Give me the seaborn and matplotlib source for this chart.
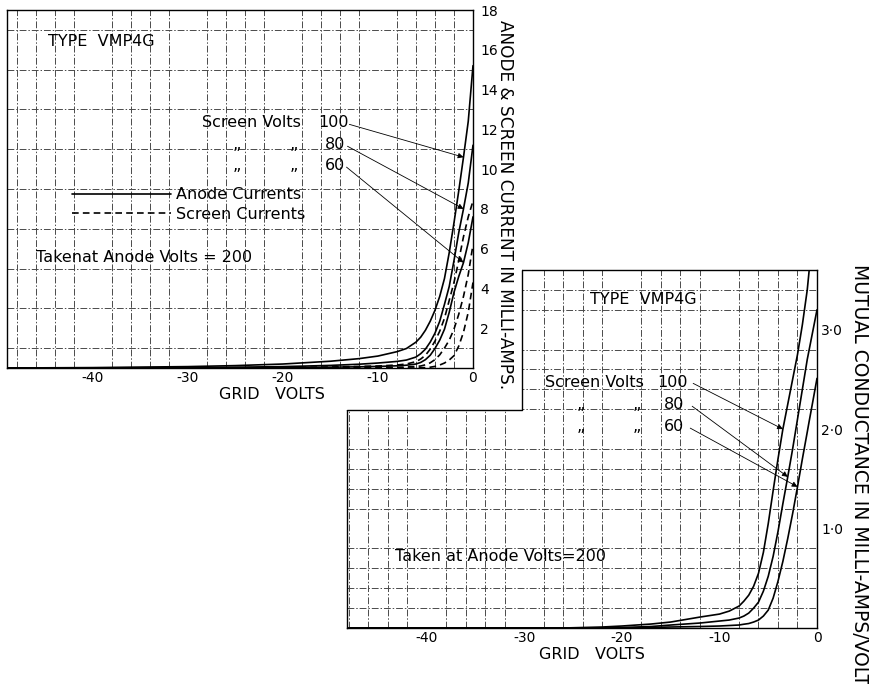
import numpy as np
import pandas as pd
import matplotlib
matplotlib.use("Agg")
import matplotlib.pyplot as plt
from matplotlib.lines import Line2D
from matplotlib.patches import Rectangle
import seaborn as sns

# ---- upper chart: anode & screen currents (mA) vs grid volts ----
top_volts = [-49, -40, -30, -25, -20, -15, -12, -10, -8, -7, -6, -5.5, -5, -4.5,
             -4, -3.5, -3, -2.5, -2, -1.5, -1, -0.5, 0]
anode_100 = [0.0, 0.02, 0.07, 0.12, 0.2, 0.34, 0.47, 0.6, 0.82, 0.98, 1.3, 1.55, 1.9, 2.35,
             2.9, 3.6, 4.5, 5.8, 7.3, 8.9, 10.6, 12.4, 15.2]
anode_80 = [0.0, 0.005, 0.02, 0.04, 0.07, 0.13, 0.19, 0.25, 0.33, 0.4, 0.55, 0.72, 0.95, 1.3,
            1.75, 2.35, 3.2, 4.1, 5.4, 6.8, 8.0, 9.3, 11.2]
anode_60 = [0.0, 0.0, 0.0, 0.01, 0.02, 0.04, 0.06, 0.08, 0.11, 0.14, 0.2, 0.28, 0.42, 0.64,
            0.98, 1.4, 1.95, 2.8, 3.8, 4.6, 5.3, 6.3, 7.6]
screen_100 = [0.0, 0.0, 0.0, 0.01, 0.02, 0.05, 0.08, 0.1, 0.15, 0.2, 0.32, 0.45, 0.64, 0.95,
              1.35, 1.85, 2.5, 3.4, 4.3, 5.4, 6.6, 7.6, 8.4]
screen_80 = [0.0, 0.0, 0.0, 0.0, 0.0, 0.0, 0.01, 0.02, 0.03, 0.05, 0.08, 0.1, 0.16, 0.26,
             0.42, 0.66, 1.0, 1.4, 1.95, 2.7, 3.6, 4.7, 6.2]
screen_60 = [0.0, 0.0, 0.0, 0.0, 0.0, 0.0, 0.0, 0.0, 0.0, 0.0, 0.0, 0.01, 0.02, 0.04,
             0.08, 0.15, 0.25, 0.4, 0.62, 1.1, 1.8, 2.8, 4.3]

# ---- lower chart: mutual conductance (mA/V) vs grid volts ----
bot_volts = [-48, -26, -22, -20, -17, -15, -12, -10, -9, -8, -7.5, -7, -6.5, -6, -5.5, -5,
             -4.5, -4, -3.5, -3, -2.5, -2, -1.5, -1, -0.8, -0.5, 0]
gm_100 = [0.0, 0.0, 0.01, 0.02, 0.04, 0.06, 0.11, 0.14, 0.17, 0.22, 0.27, 0.33, 0.42, 0.55,
          0.76, 1.05, 1.38, 1.7, 2.0, 2.25, 2.5, 2.75, 3.05, 3.4, 3.6, np.nan, np.nan]
gm_80 = [0.0, 0.0, 0.0, 0.005, 0.015, 0.03, 0.05, 0.07, 0.08, 0.1, 0.12, 0.15, 0.2, 0.26,
         0.37, 0.52, 0.72, 0.97, 1.25, 1.52, 1.8, 2.1, 2.4, 2.7, 2.8, 2.95, 3.2]
gm_60 = [0.0, 0.0, 0.0, 0.0, 0.005, 0.01, 0.015, 0.02, 0.025, 0.03, 0.038, 0.045, 0.06, 0.08,
         0.12, 0.18, 0.3, 0.47, 0.67, 0.9, 1.15, 1.42, 1.7, 1.97, 2.08, 2.24, 2.51]

screen_volts = [100, 80, 60]
x_ticks = [-40, -30, -20, -10, 0]
top_yticks = [2, 4, 6, 8, 10, 12, 14, 16, 18]
bot_yticks = [1, 2, 3]
bot_ylabels = ["1·0", "2·0", "3·0"]
# grid volts where the label arrows land on each curve
top_arrow_v = [-1, -1, -1]
bot_arrow_v = [-3.5, -3, -2]

rows = []
for sv, a, s in zip(screen_volts, [anode_100, anode_80, anode_60],
                    [screen_100, screen_80, screen_60]):
    for v, ia, isc in zip(top_volts, a, s):
        rows.append({"grid": v, "ma": ia, "kind": "Anode", "curve": f"A{sv}"})
        rows.append({"grid": v, "ma": isc, "kind": "Screen", "curve": f"S{sv}"})
top_df = pd.DataFrame(rows)

rows = []
for sv, g in zip(screen_volts, [gm_100, gm_80, gm_60]):
    for v, val in zip(bot_volts, g):
        rows.append({"grid": v, "gm": val, "curve": sv})
bot_df = pd.DataFrame(rows).dropna()

sns.set_style("white")
plt.rcParams["font.family"] = ["DejaVu Sans"]
plt.rcParams["text.color"] = "black"
plt.rcParams["axes.labelcolor"] = "black"
plt.rcParams["xtick.color"] = "black"
plt.rcParams["ytick.color"] = "black"

fig = plt.figure(figsize=(8.74, 6.84), dpi=100)
W, H = 874, 684


def box(l, t, r, b):
    return [l / W, 1 - b / H, (r - l) / W, (b - t) / H]


ax_b = fig.add_axes(box(347, 270, 817, 628))
ax_t = fig.add_axes(box(7, 10, 473, 368))
ax_b.set_zorder(1)
ax_t.set_zorder(2)

grid_kw = dict(color="#4a4a4a", lw=0.7, ls=(0, (7, 2, 1.5, 2)))

for ax in (ax_t, ax_b):
    for sp in ax.spines.values():
        sp.set_visible(True)
        sp.set_color("black")
        sp.set_linewidth(1.0)
    ax.tick_params(which="both", length=0, labelsize=10, colors="black")
    ax.yaxis.tick_right()

# upper chart
sns.lineplot(data=top_df, x="grid", y="ma", units="curve", style="kind",
             dashes={"Anode": "", "Screen": (4, 2.5)}, estimator=None, sort=False,
             color="black", lw=1.2, legend=False, ax=ax_t)
ax_t.set_xlim(-49, 0)
ax_t.set_ylim(0, 18)
ax_t.set_xticks(np.arange(-48, 1, 2), minor=True)
ax_t.set_yticks(np.arange(0, 19, 1), minor=True)
ax_t.set_xticks(x_ticks)
ax_t.set_xticklabels([str(t) for t in x_ticks])
ax_t.set_yticks(top_yticks)
ax_t.set_yticklabels([str(t) for t in top_yticks])
ax_t.tick_params(axis="x", pad=2)
ax_t.tick_params(axis="y", pad=5)
ax_t.grid(which="minor", **grid_kw)
ax_t.set_ylabel("")
ax_t.set_xlabel("GRID   VOLTS", fontsize=11.5)
ax_t.xaxis.set_label_coords(0.569, -0.052)

txt = dict(fontsize=11.5, color="black", va="center", ha="left")
ax_t.text(-44.7, 16.44, "TYPE  VMP4G", **txt)
ax_t.text(-28.5, 12.32, "Screen Volts", **txt)
ax_t.text(-16.3, 12.32, "100", **txt)
ax_t.text(-15.6, 11.25, "80", **txt)
ax_t.text(-15.6, 10.2, "60", **txt)
for y in (11.25, 10.2):
    ax_t.text(-25.3, y, "„", **txt)
    ax_t.text(-19.3, y, "„", **txt)
ax_t.text(-45.9, 5.58, "Takenat Anode Volts = 200", **txt)

arrow = dict(arrowstyle="-|>", lw=0.6, color="black", mutation_scale=8,
             shrinkA=0, shrinkB=0)
starts_t = [(-13.0, 12.25), (-13.2, 11.15), (-13.3, 10.1)]
for (sx, sy), av, vals in zip(starts_t, top_arrow_v, [anode_100, anode_80, anode_60]):
    i = top_volts.index(av)
    ax_t.annotate("", xy=(top_volts[i], vals[i]), xytext=(sx, sy), arrowprops=arrow)

handles = [Line2D([], [], color="black", lw=1.2),
           Line2D([], [], color="black", lw=1.2, ls=(0, (4, 2.5)))]
ax_t.legend(handles, ["Anode Currents", "Screen Currents"], loc="upper left",
            bbox_to_anchor=(0.139, 0.505), frameon=False, fontsize=11.5,
            handlelength=6.2, handletextpad=0.3, labelspacing=0.3,
            borderpad=0, borderaxespad=0, labelcolor="black")

# lower chart
sns.lineplot(data=bot_df, x="grid", y="gm", units="curve", estimator=None, sort=False,
             color="black", lw=1.2, legend=False, ax=ax_b)
ax_b.set_xlim(-48.2, 0)
ax_b.set_ylim(0, 3.6)
ax_b.set_xticks(np.arange(-48, 1, 2), minor=True)
ax_b.set_yticks(np.arange(0, 3.61, 0.2), minor=True)
ax_b.set_xticks(x_ticks)
ax_b.set_xticklabels([str(t) for t in x_ticks])
ax_b.set_yticks(bot_yticks)
ax_b.set_yticklabels(bot_ylabels)
ax_b.tick_params(axis="x", pad=2)
ax_b.tick_params(axis="y", pad=3)
ax_b.grid(which="minor", **grid_kw)
ax_b.set_ylabel("")
ax_b.set_xlabel("GRID   VOLTS", fontsize=11.5)
ax_b.xaxis.set_label_coords(0.521, -0.052)

ax_b.text(-23.3, 3.30, "TYPE  VMP4G", **txt)
ax_b.text(-27.9, 2.47, "Screen Volts", **txt)
ax_b.text(-16.4, 2.47, "100", **txt)
ax_b.text(-15.7, 2.25, "80", **txt)
ax_b.text(-15.7, 2.03, "60", **txt)
for y in (2.25, 2.03):
    ax_b.text(-24.7, y, "„", **txt)
    ax_b.text(-18.9, y, "„", **txt)
ax_b.text(-43.3, 0.72, "Taken at Anode Volts=200", **txt)

starts_b = [(-12.7, 2.46), (-12.8, 2.23), (-13.0, 2.01)]
for (sx, sy), av, vals in zip(starts_b, bot_arrow_v, [gm_100, gm_80, gm_60]):
    i = bot_volts.index(av)
    ax_b.annotate("", xy=(bot_volts[i], vals[i]), xytext=(sx, sy), arrowprops=arrow)

# the lower chart's top-left corner is cut away under the upper chart
nx, ny = (522 - 347) / 470, (628 - 410) / 358
ax_b.add_patch(Rectangle((-0.02, ny), nx + 0.02, 1.05 - ny, transform=ax_b.transAxes,
                         facecolor="white", edgecolor="none", zorder=3, clip_on=False))
ax_b.plot([0, nx, nx], [ny, ny, 1], transform=ax_b.transAxes, color="black", lw=1.0,
          clip_on=False, zorder=3.5)

fig.text(505 / W, 1 - 20 / H, "ANODE & SCREEN CURRENT IN MILLI-AMPS.", rotation=270,
         ha="center", va="top", fontsize=12.2)
fig.text(860 / W, 1 - 264 / H, "MUTUAL CONDUCTANCE IN MILLI-AMPS/VOLT", rotation=270,
         ha="center", va="top", fontsize=13.5)

fig.savefig("out.png", dpi=100)
